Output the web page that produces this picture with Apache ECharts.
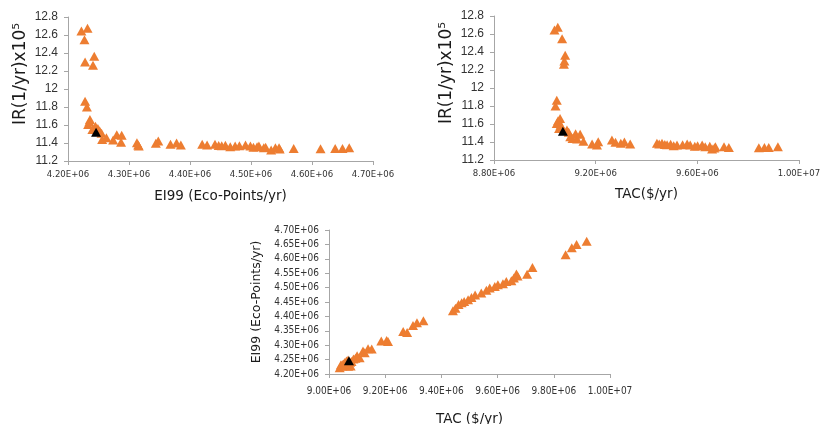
<!DOCTYPE html>
<html>
<head>
<meta charset="utf-8">
<script src="https://cdn.jsdelivr.net/npm/echarts@6/dist/echarts.min.js"></script>
<style>html,body{margin:0;padding:0;background:#fff}#c{width:824px;height:424px}</style>
</head>
<body>
<div id="c"></div>
<script>
// Pareto solutions: total annual cost ($/yr), Eco-indicator 99 (Eco-Points/yr), individual risk (1/yr x10^5)
const TAC = [9.038e6, 9.051e6, 9.068e6, 9.077e6, 9.080e6, 9.075e6, 9.047e6, 9.042e6, 9.060e6, 9.052e6,
  9.047e6, 9.062e6, 9.068e6, 9.056e6, 9.087e6, 9.094e6, 9.100e6, 9.109e6, 9.127e6, 9.121e6,
  9.139e6, 9.152e6, 9.186e6, 9.205e6, 9.210e6, 9.264e6, 9.278e6, 9.299e6, 9.313e6, 9.336e6,
  9.441e6, 9.450e6, 9.461e6, 9.472e6, 9.481e6, 9.495e6, 9.507e6, 9.520e6, 9.542e6, 9.560e6,
  9.572e6, 9.590e6, 9.601e6, 9.619e6, 9.631e6, 9.649e6, 9.658e6, 9.667e6, 9.671e6, 9.705e6,
  9.724e6, 9.842e6, 9.864e6, 9.881e6, 9.917e6];
const EI99 = [4.222e6, 4.232e6, 4.227e6, 4.228e6, 4.243e6, 4.241e6, 4.228e6, 4.231e6, 4.236e6, 4.235e6,
  4.233e6, 4.245e6, 4.249e6, 4.240e6, 4.252e6, 4.255e6, 4.263e6, 4.256e6, 4.274e6, 4.280e6,
  4.288e6, 4.287e6, 4.315e6, 4.316e6, 4.313e6, 4.348e6, 4.344e6, 4.368e6, 4.378e6, 4.385e6,
  4.420e6, 4.428e6, 4.441e6, 4.447e6, 4.452e6, 4.458e6, 4.466e6, 4.474e6, 4.481e6, 4.491e6,
  4.499e6, 4.504e6, 4.510e6, 4.513e6, 4.521e6, 4.524e6, 4.533e6, 4.547e6, 4.540e6, 4.546e6,
  4.570e6, 4.614e6, 4.638e6, 4.650e6, 4.661e6];
const IR = [12.645, 12.676, 12.548, 12.300, 12.363, 12.265, 11.864, 11.800, 11.662, 11.635,
  11.606, 11.585, 11.562, 11.550, 11.532, 11.507, 11.458, 11.440, 11.433, 11.492,
  11.486, 11.407, 11.377, 11.366, 11.403, 11.421, 11.396, 11.385, 11.400, 11.377,
  11.385, 11.377, 11.385, 11.372, 11.370, 11.374, 11.358, 11.366, 11.370, 11.377,
  11.366, 11.352, 11.358, 11.366, 11.347, 11.352, 11.322, 11.333, 11.347, 11.347,
  11.340, 11.336, 11.340, 11.340, 11.347];
// highlighted (selected) solution
const SEL_TAC = [9.071e6];
const SEL_EI99 = [4.246e6];
const SEL_IR = [11.52];

const ORANGE = '#ED7D31';
const AXIS = '#a6a6a6';
const TICKC = '#333333';
const TITLEC = '#1a1a1a';
const COND = '"DejaVu Sans Condensed", "DejaVu Sans", sans-serif';

function sci(v) {
  const s = Number(v).toExponential(2);
  const parts = s.split('e');
  const n = parseInt(parts[1], 10);
  return parts[0] + 'E' + (n < 0 ? '-' : '+') + String(Math.abs(n)).padStart(2, '0');
}
function irFmt(v) { return String(+Number(v).toFixed(1)); }

function xAx(idx, min, max, interval, name, fs, nameGap, nameFs, margin) {
  return {
    gridIndex: idx, type: 'value', min: min, max: max, interval: interval,
    name: name, nameLocation: 'middle', nameGap: nameGap,
    nameTextStyle: { fontFamily: 'DejaVu Sans', fontSize: nameFs, color: TITLEC },
    axisLine: { show: true, onZero: false, lineStyle: { color: AXIS, width: 1 } },
    axisTick: { show: true, length: 4, lineStyle: { color: AXIS } },
    splitLine: { show: false },
    axisLabel: { formatter: sci, fontFamily: COND, fontSize: fs, color: TICKC, margin: margin }
  };
}
function yAx(idx, min, max, interval, fmt, name, nameGap, nameFs, shift, lfs, lfam, margin) {
  return {
    gridIndex: idx, type: 'value', min: min, max: max, interval: interval,
    name: name, nameLocation: 'middle', nameGap: nameGap, nameRotate: 90,
    nameTextStyle: { fontFamily: 'DejaVu Sans', fontSize: nameFs, color: TITLEC, padding: [0, 0, 0, shift] },
    axisLine: { show: true, onZero: false, lineStyle: { color: AXIS, width: 1 } },
    axisTick: { show: true, length: 4, lineStyle: { color: AXIS } },
    splitLine: { show: false },
    axisLabel: { formatter: fmt, fontFamily: lfam, fontSize: lfs, color: TICKC, margin: margin }
  };
}
function pairs(a, b) { return a.map(function (v, i) { return [v, b[i]]; }); }
function sc(xi, yi, data, color, z) {
  return {
    type: 'scatter', xAxisIndex: xi, yAxisIndex: yi, data: data, symbol: 'triangle',
    symbolSize: [10, 9], itemStyle: { color: color, opacity: 1 }, z: z, animation: false,
    emphasis: { disabled: true }
  };
}

const chart = echarts.init(document.getElementById('c'), null, { renderer: 'canvas' });
chart.setOption({
  backgroundColor: '#ffffff',
  animation: false,
  grid: [
    { left: 68, top: 17, width: 305, height: 144, outerBoundsMode: 'none', containLabel: false },
    { left: 494, top: 16, width: 305, height: 144, outerBoundsMode: 'none', containLabel: false },
    { left: 329, top: 230, width: 281, height: 144, outerBoundsMode: 'none', containLabel: false }
  ],
  xAxis: [
    xAx(0, 4.2e6, 4.7e6, 0.1e6, 'EI99 (Eco-Points/yr)', 9.5, 28, 13.5, 9),
    xAx(1, 8.8e6, 10.0e6, 0.4e6, 'TAC($/yr)', 9.5, 27, 13.5, 9),
    xAx(2, 9.0e6, 10.0e6, 0.2e6, 'TAC ($/yr)', 10, 38, 13.5, 12)
  ],
  yAxis: [
    yAx(0, 11.2, 12.8, 0.2, irFmt, 'IR(1/yr)x10\u2075', 39, 17, 30, 12, 'Liberation Sans', 10),
    yAx(1, 11.2, 12.8, 0.2, irFmt, 'IR(1/yr)x10\u2075', 39, 17, 30, 12, 'Liberation Sans', 10),
    yAx(2, 4.2e6, 4.7e6, 0.05e6, sci, 'EI99 (Eco-Points/yr)', 66, 12.5, 0, 10, COND, 10)
  ],
  series: [
    sc(0, 0, pairs(EI99, IR), ORANGE, 2),
    sc(0, 0, pairs(SEL_EI99, SEL_IR), '#000000', 3),
    sc(1, 1, pairs(TAC, IR), ORANGE, 2),
    sc(1, 1, pairs(SEL_TAC, SEL_IR), '#000000', 3),
    sc(2, 2, pairs(TAC, EI99), ORANGE, 2),
    sc(2, 2, pairs(SEL_TAC, SEL_EI99), '#000000', 3)
  ]
});
</script>
</body>
</html>
